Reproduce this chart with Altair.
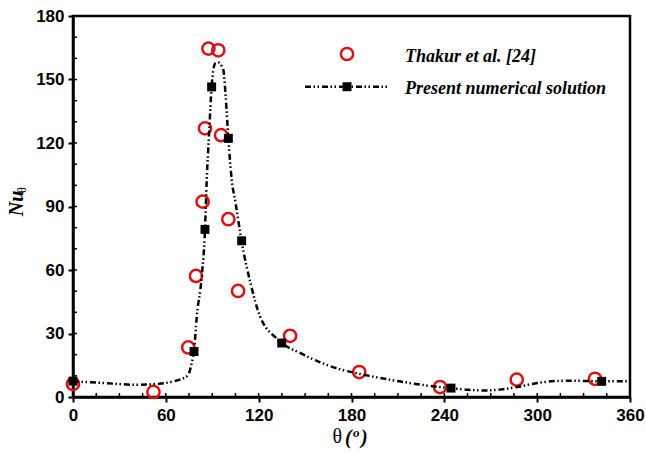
import altair as alt
import pandas as pd

# ---- data ----
# Thakur et al. [24] (open red circles)
thakur_theta = [0, 52, 74.5, 79.5, 83.8, 85.3, 87.5, 93.9, 95.7, 100.4, 106.7, 140.3, 185, 237.2, 286.8, 337.4]
thakur_nu = [6.1, 2.4, 23.4, 57.2, 92.3, 126.9, 164.6, 163.8, 123.7, 84.0, 50.1, 28.9, 11.8, 4.7, 8.2, 8.6]

# Present numerical solution (filled squares)
present_theta = [0, 78.2, 85.3, 89.6, 100.4, 109, 134.9, 244.3, 341.7]
present_nu = [7.5, 21.5, 79.2, 146.5, 122.2, 73.8, 25.5, 4.2, 7.4]

# Present numerical solution (continuous curve)
curve_theta = [0, 20, 40, 55, 65, 70, 74.5, 76.7, 78.2, 80, 83.2, 85.3, 86.4, 88, 89.6, 91.9, 93.9,
               96, 97.2, 98.7, 100.4, 102.6, 105, 109, 115, 120.9, 125, 130, 134.9, 146.7, 159.7,
               172, 185, 211, 237, 244.3, 255, 267, 277, 287, 300, 319, 330, 341.7, 360]
curve_nu = [7.4, 6.6, 5.8, 6.2, 7.4, 8.5, 10.5, 16, 21.5, 38, 57, 79, 102, 125, 146.5, 157.6, 158,
            156.5, 154.4, 141.8, 122.2, 102.5, 92, 73.4, 53, 38, 32.5, 28.8, 25.5, 20.8, 16.4,
            13.2, 11, 7.4, 4.7, 4.2, 3.4, 3.1, 3.6, 4.7, 6.6, 7.7, 7.6, 7.4, 7.4]

x_major = [0, 60, 120, 180, 240, 300, 360]
y_major = [0, 30, 60, 90, 120, 150, 180]
x_minor = list(range(0, 361, 15))
y_minor = list(range(0, 181, 10))

legend_labels = ["Thakur et al. [24]", "Present numerical solution"]

thakur = pd.DataFrame({"theta": thakur_theta, "nu": thakur_nu})
present = pd.DataFrame({"theta": present_theta, "nu": present_nu})
curve = pd.DataFrame({"theta": curve_theta, "nu": curve_nu})
xminor_df = pd.DataFrame({"theta": x_minor})
yminor_df = pd.DataFrame({"nu": y_minor})

W, H = 557, 381
RED = "#dd1111"
DASH = [6, 2.5, 1.5, 2.5, 1.5, 3]

xs = alt.Scale(domain=[0, 360], nice=False, zero=False)
ys = alt.Scale(domain=[0, 180], nice=False, zero=False)

main_axis = dict(tickSize=5, tickWidth=2, tickColor="black", domainWidth=2.5, domainColor="black",
                 labelFont="Liberation Sans", labelFontWeight="bold", labelFontSize=17,
                 labelColor="black", title=None, grid=False, labelOverlap=False, labelFlush=False)
X_AXIS = alt.Axis(values=x_major, labelPadding=5, **main_axis)
Y_AXIS = alt.Axis(values=y_major, labelPadding=4, **main_axis)

# inward minor ticks (drawn through the scales)
x_ticks_in = alt.Chart(xminor_df).mark_rule(color="black", strokeWidth=1.5).encode(
    x=alt.X("theta:Q", scale=xs, axis=X_AXIS), y=alt.value(H - 4), y2=alt.value(H))
y_ticks_in = alt.Chart(yminor_df).mark_rule(color="black", strokeWidth=1.5).encode(
    y=alt.Y("nu:Q", scale=ys, axis=Y_AXIS), x=alt.value(0), x2=alt.value(4))

circles = alt.Chart(thakur).mark_point(
    shape="circle", filled=False, stroke=RED, strokeWidth=2.5, size=150, opacity=1
).encode(
    x=alt.X("theta:Q", scale=xs, axis=X_AXIS),
    y=alt.Y("nu:Q", scale=ys, axis=Y_AXIS),
)

line = alt.Chart(curve).mark_line(
    color="black", strokeWidth=2.5, strokeDash=DASH, interpolate="monotone"
).encode(
    x=alt.X("theta:Q", scale=xs, axis=X_AXIS),
    y=alt.Y("nu:Q", scale=ys, axis=Y_AXIS),
)

squares = alt.Chart(present).mark_square(color="black", size=80, opacity=1).encode(
    x=alt.X("theta:Q", scale=xs, axis=X_AXIS),
    y=alt.Y("nu:Q", scale=ys, axis=Y_AXIS),
)

# ---- legend (manual) ----
leg_df = pd.DataFrame({"label": legend_labels})
leg_circle = alt.Chart(leg_df.iloc[[0]]).mark_point(
    shape="circle", filled=False, stroke=RED, strokeWidth=2.5, size=150, opacity=1
).encode(x=alt.value(274), y=alt.value(38))
leg_line = alt.Chart(leg_df.iloc[[1]]).mark_rule(
    color="black", strokeWidth=2.5, strokeDash=DASH
).encode(x=alt.value(232), x2=alt.value(316), y=alt.value(70.7))
leg_square = alt.Chart(leg_df.iloc[[1]]).mark_square(color="black", size=80, opacity=1).encode(
    x=alt.value(274), y=alt.value(70.7))
leg_text1 = alt.Chart(leg_df.iloc[[0]]).mark_text(
    align="left", baseline="alphabetic", font="Liberation Serif", fontSize=18,
    fontStyle="italic", fontWeight="bold", color="black"
).encode(x=alt.value(332), y=alt.value(45.5), text="label:N")
leg_text2 = alt.Chart(leg_df.iloc[[1]]).mark_text(
    align="left", baseline="alphabetic", font="Liberation Serif", fontSize=18,
    fontStyle="italic", fontWeight="bold", color="black"
).encode(x=alt.value(332), y=alt.value(77.5), text="label:N")

# ---- axis titles (manual, to get sub/superscripts) ----
title_df = pd.DataFrame({"t": ["Nu", "θ", "θ", "(", "o", ")"]})
y_nu = alt.Chart(title_df.iloc[[0]]).mark_text(
    align="center", baseline="alphabetic", angle=270, font="Liberation Serif", fontSize=20,
    fontStyle="italic", fontWeight="bold", color="black"
).encode(x=alt.value(-50.5), y=alt.value(187.5), text="t:N")
y_sub = alt.Chart(title_df.iloc[[1]]).mark_text(
    align="center", baseline="alphabetic", angle=270, font="Liberation Serif", fontSize=12,
    color="black"
).encode(x=alt.value(-47), y=alt.value(174), text="t:N")
x_theta = alt.Chart(title_df.iloc[[2]]).mark_text(
    align="left", baseline="alphabetic", font="Liberation Serif", fontSize=20, color="black"
).encode(x=alt.value(259.5), y=alt.value(427), text="t:N")
x_lp = alt.Chart(title_df.iloc[[3]]).mark_text(
    align="left", baseline="alphabetic", font="Liberation Serif", fontSize=20,
    fontStyle="italic", fontWeight="bold", color="black"
).encode(x=alt.value(272), y=alt.value(428), text="t:N")
x_o = alt.Chart(title_df.iloc[[4]]).mark_text(
    align="left", baseline="alphabetic", font="Liberation Serif", fontSize=13,
    fontStyle="italic", fontWeight="bold", color="black"
).encode(x=alt.value(280), y=alt.value(421), text="t:N")
x_rp = alt.Chart(title_df.iloc[[5]]).mark_text(
    align="left", baseline="alphabetic", font="Liberation Serif", fontSize=20,
    fontStyle="italic", fontWeight="bold", color="black"
).encode(x=alt.value(288), y=alt.value(428), text="t:N")

chart = alt.layer(
    x_ticks_in, y_ticks_in,
    circles, line, squares,
    leg_circle, leg_line, leg_square, leg_text1, leg_text2,
    y_nu, y_sub, x_theta, x_lp, x_o, x_rp,
).properties(
    width=W, height=H,
    autosize=alt.AutoSizeParams(type="none"),
    padding={"left": 73, "top": 16, "right": 16, "bottom": 55},
    background="white",
).configure_view(
    stroke="black", strokeWidth=2.5
)

chart.save("out.html", embed_options={"renderer": "svg", "actions": False})
